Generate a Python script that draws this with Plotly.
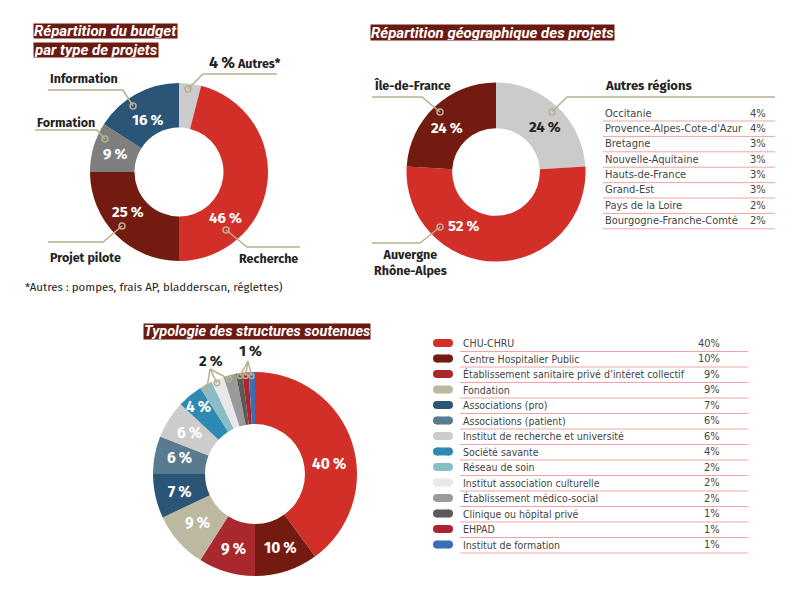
import plotly.graph_objects as go

# ---------------- data ----------------
budget_labels = ["Autres*", "Recherche", "Projet pilote", "Formation", "Information"]
budget_values = [4, 46, 25, 9, 16]
budget_colors = ["#cccccc", "#d12f27", "#731b10", "#7f7f7f", "#2b5576"]

geo_labels = ["Autres régions", "Auvergne<br>Rhône-Alpes", "Île-de-France"]
geo_values = [24, 52, 24]
geo_colors = ["#cbcbcb", "#d12f27", "#731b10"]

other_regions = ["Occitanie", "Provence-Alpes-Cote-d'Azur", "Bretagne", "Nouvelle-Aquitaine",
                 "Hauts-de-France", "Grand-Est", "Pays de la Loire", "Bourgogne-Franche-Comté"]
other_values = [4, 4, 3, 3, 3, 3, 2, 2]

struct_labels = ["CHU-CHRU", "Centre Hospitalier Public",
                 "Établissement sanitaire privé d’intéret collectif", "Fondation",
                 "Associations (pro)", "Associations (patient)", "Institut de recherche et université",
                 "Société savante", "Réseau de soin", "Institut association culturelle",
                 "Établissement médico-social", "Clinique ou hôpital privé", "EHPAD",
                 "Institut de formation"]
struct_values = [40, 10, 9, 9, 7, 6, 6, 4, 2, 2, 2, 1, 1, 1]
struct_colors = ["#d12f27", "#731b10", "#a8282e", "#bcb9a0", "#2b5576", "#5a7a90", "#cccccc",
                 "#2e8ab2", "#88bcc7", "#e8e8e8", "#9a9a9a", "#5a5a5a", "#b0232e", "#3a6fb5"]

# ---------------- layout helpers ----------------
# the page body has an 8px margin, so the figure is 8px smaller and coordinates are shifted
OFF = 8
W, H = 800 - OFF, 594 - OFF
def px(x): return (x - OFF) / W
def py(y): return 1 - (y - OFF) / H

TITLE_BG = "#6b1a12"
LEAD = "#b7b08f"
ROWLINE = "#f2a3a3"
BOLD_FONT = "Fira Sans, Noto Sans, Open Sans"
TXT_FONT = "Liberation Sans Narrow, DejaVu Sans Condensed, Roboto"
TITLE_FONT = "Liberation Sans Narrow, Roboto, Noto Sans"

fig = go.Figure()

def add_pie(labels, values, colors, cx, cy, r, hole):
    fig.add_trace(go.Pie(
        labels=labels, values=values, sort=False, direction="clockwise", rotation=0,
        hole=hole, textinfo="none", hoverinfo="label+percent",
        marker=dict(colors=colors, line=dict(width=0)),
        domain=dict(x=[px(cx - r), px(cx + r)], y=[py(cy + r), py(cy - r)]),
    ))

add_pie(budget_labels, budget_values, budget_colors, 179, 172, 89, 0.5)
add_pie(geo_labels, geo_values, geo_colors, 496, 172, 89.5, 0.49)
add_pie(struct_labels, struct_values, struct_colors, 255, 474, 102, 0.49)

annotations = []
shapes = []

def text(x, y, s, size=12, color="#222", family=BOLD_FONT, anchor="left", weight="bold",
         style="normal", bg=None, height=None):
    a = dict(x=px(x), y=py(y), xref="paper", yref="paper", text=s, showarrow=False,
             xanchor=anchor, yanchor="middle",
             font=dict(size=size, color=color, family=family, weight=weight, style=style))
    if bg:
        a.update(bgcolor=bg, borderpad=0)
    if height:
        a.update(height=height)
    annotations.append(a)

def poly(points, color=LEAD, width=1.5):
    path = "M " + " L ".join(f"{px(x)},{py(y)}" for x, y in points)
    shapes.append(dict(type="path", xref="paper", yref="paper", path=path,
                       line=dict(color=color, width=width)))

def ring(x, y, r=3):
    shapes.append(dict(type="circle", xref="paper", yref="paper",
                       x0=px(x - r), x1=px(x + r), y0=py(y + r), y1=py(y - r),
                       line=dict(color=LEAD, width=1.5)))

def hline(x0, x1, y, color=ROWLINE, width=1):
    shapes.append(dict(type="line", xref="paper", yref="paper",
                       x0=px(x0), x1=px(x1), y0=py(y), y1=py(y), line=dict(color=color, width=width)))

def pct(v):
    return f"{v}\u2009%"

# ---------------- titles ----------------
text(33, 31.5, "Répartition du budget", 15, "white", TITLE_FONT, style="italic", bg=TITLE_BG, height=14)
text(33, 49.5, "par type de projets", 15, "white", TITLE_FONT, style="italic", bg=TITLE_BG, height=14)
text(370, 32.5, "Répartition géographique des projets", 15, "white", TITLE_FONT, style="italic", bg=TITLE_BG, height=15)
text(143, 331, "Typologie des structures soutenues", 14.5, "white", TITLE_FONT, style="italic", bg=TITLE_BG, height=15)

# ---------------- donut 1 labels ----------------
pos1 = [(243, 62), (225, 218), (128, 212), (115, 154), (147, 120)]
for i, (lab, v) in enumerate(zip(budget_labels, budget_values)):
    if i == 0:
        text(207, pos1[0][1], f"<span style='font-size:16px'>{pct(v)}</span> {lab}", 12.5, "#222", anchor="left")
    else:
        text(pos1[i][0], pos1[i][1], pct(v), 15, "white", anchor="center")

lead1 = {
    "Information": ([(48, 90), (123, 90), (133, 106)], (48, 78, "left")),
    "Formation": ([(35, 130), (97, 130), (105, 139)], (35, 122, "left")),
    "Autres*": ([(277, 74), (203, 74), (188, 89)], None),
    "Projet pilote": ([(48, 242), (103, 242), (122, 226)], (48, 257, "left")),
    "Recherche": ([(300, 247), (247, 247), (226, 230)], (300, 258, "right")),
}
for lab in budget_labels:
    pts, lp = lead1[lab]
    poly(pts)
    ring(*pts[-1])
    if lp:
        text(lp[0], lp[1], lab, 12.5, "#222", anchor=lp[2])

# footnote
text(23, 287, "*Autres : pompes, frais AP, bladderscan, réglettes)", 11.5, "#222", weight="normal")

# ---------------- donut 2 labels ----------------
pos2 = [(545, 127), (464, 226), (447, 128)]
col2 = ["#222", "white", "white"]
for i, v in enumerate(geo_values):
    text(pos2[i][0], pos2[i][1], pct(v), 15, col2[i], anchor="center")

poly([(775, 97), (567, 97), (552, 112)]); ring(552, 112)
text(603, 86, geo_labels[0], 13, "#222")
poly([(372, 243), (420, 243), (440, 227)]); ring(440, 227)
text(372, 262, geo_labels[1], 12.5, "#222")
poly([(372, 97), (422, 97), (440, 112)]); ring(440, 112)
text(372, 86, geo_labels[2], 12.5, "#222")

# table of other regions
for i, (name, v) in enumerate(zip(other_regions, other_values)):
    y = 113 + i * 15.4
    text(603, y, name, 11, "#444", TXT_FONT, weight="normal")
    text(768, y, f"{v}%", 11, "#444", TXT_FONT, anchor="right", weight="normal")
    hline(603, 775, y + 8)

# ---------------- donut 3 labels ----------------
pos3 = [(329, 464), (280, 548), (233, 549), (197, 523), (180, 492), (179, 458), (189, 433), (198, 407)]
for i, (x, y) in enumerate(pos3):
    text(x, y, pct(struct_values[i]), 15.5, "white", anchor="center")

text(211, 361, pct(struct_values[8]), 15, "#222", anchor="center")
for cx, cy in [(207, 388), (217, 383), (229, 379)]:
    poly([(210, 369), (cx, cy)]); ring(cx, cy, 2.7)
text(250, 351, pct(struct_values[11]), 15, "#222", anchor="center")
for cx, cy in [(240, 376), (245.5, 376), (251.5, 376)]:
    poly([(248, 361), (cx, cy)]); ring(cx, cy, 2.5)

# legend table
for i, (name, v, c) in enumerate(zip(struct_labels, struct_values, struct_colors)):
    y = 343 + i * 15.5
    shapes.append(dict(type="rect", xref="paper", yref="paper", x0=px(437), x1=px(449),
                       y0=py(y + 4), y1=py(y - 4), fillcolor=c, line=dict(width=0)))
    for ex in (437, 449):
        shapes.append(dict(type="circle", xref="paper", yref="paper", x0=px(ex - 4), x1=px(ex + 4),
                           y0=py(y + 4), y1=py(y - 4), fillcolor=c, line=dict(width=0)))
    text(461, y, name, 10.5, "#444", TXT_FONT, weight="normal")
    text(722, y, f"{v}%", 11, "#444", TXT_FONT, anchor="right", weight="normal")
    hline(460, 748, y + 8.5)

fig.update_layout(
    width=W, height=H, margin=dict(l=0, r=0, t=0, b=0),
    paper_bgcolor="white", plot_bgcolor="white", showlegend=False,
    annotations=annotations, shapes=shapes,
)
fig.write_html("out.html")
